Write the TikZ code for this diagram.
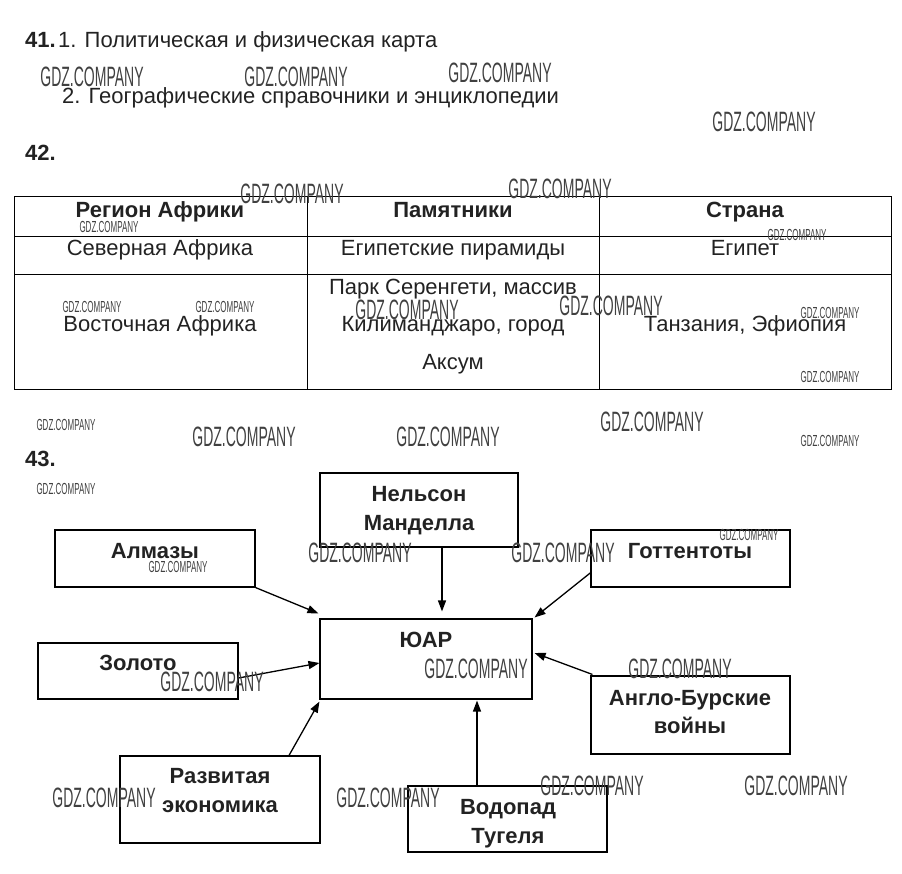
\documentclass[tikz,border=0pt]{standalone}
\usepackage{fontspec}
\setmainfont{Liberation Sans}
\newfontfamily\wmfont[FakeStretch=0.5]{Liberation Sans}
\usetikzlibrary{arrows.meta,calc}
\definecolor{ink}{HTML}{222222}
\tikzset{
  txt/.style={inner sep=0pt,anchor=mid,text=ink,font=\fontsize{22}{22}\selectfont},
  txtl/.style={txt,anchor=mid west},
  btxt/.style={txt,font=\fontsize{22}{22}\selectfont\bfseries},
  btxtl/.style={txtl,font=\fontsize{22}{22}\selectfont\bfseries},
  wmbig/.style={inner sep=0pt,anchor=center,text=black!75,font=\wmfont\fontsize{28}{28}\selectfont},
  wmsmall/.style={inner sep=0pt,anchor=center,text=black!75,font=\wmfont\fontsize{16}{16}\selectfont},
  box/.style={draw=black,line width=1.1pt,inner sep=0pt},
  arr/.style={draw=black,line width=1.3pt,-{Triangle[length=11pt,width=8pt]}},
  grid/.style={draw=black,line width=0.9pt}
}
\begin{document}
\begin{tikzpicture}[x=1pt,y=-1pt]
\useasboundingbox (0,0) rectangle (902,873);
% --- 41
\node[btxtl] (n41) at (25,45) {41.};
\node[txtl] (t41a) at (58,45) {1. Политическая и физическая карта};
\node[txtl] (t41b) at (62,101) {2. Географические справочники и энциклопедии};
% --- 42
\node[btxtl] (n42) at (25,158) {42.};
\draw[grid] (14,196) rectangle (891,389);
\draw[grid] (307,196) -- (307,389);
\draw[grid] (599,196) -- (599,389);
\draw[grid] (14,236) -- (891,236);
\draw[grid] (14,274) -- (891,274);
\node[btxt] (h1) at (160,215) {Регион Африки};
\node[btxt] (h2) at (453,215) {Памятники};
\node[btxt] (h3) at (745,215) {Страна};
\node[txt] (r1a) at (160,253) {Северная Африка};
\node[txt] (r1b) at (453,253) {Египетские пирамиды};
\node[txt] (r1c) at (745,253) {Египет};
\node[txt] (r2a) at (160,329) {Восточная Африка};
\node[txt] (r2b1) at (453,292) {Парк Серенгети, массив};
\node[txt] (r2b2) at (453,329) {Килиманджаро, город};
\node[txt] (r2b3) at (453,367) {Аксум};
\node[txt] (r2c) at (745,329) {Танзания, Эфиопия};
% --- 43
\node[btxtl] (n43) at (25,464) {43.};
\node[box,minimum width=198pt,minimum height=74pt] (mand) at (419,510) {};
\node[box,minimum width=200pt,minimum height=57pt] (alm) at (155,558.5) {};
\node[box,minimum width=199pt,minimum height=57pt] (gott) at (690.5,558.5) {};
\node[box,minimum width=212pt,minimum height=80pt] (yuar) at (426,659) {};
\node[box,minimum width=200pt,minimum height=56pt] (zol) at (138,671) {};
\node[box,minimum width=199pt,minimum height=78pt] (anglo) at (690.5,715) {};
\node[box,minimum width=200pt,minimum height=87pt] (razv) at (220,799.5) {};
\node[box,minimum width=199pt,minimum height=66pt] (vod) at (507.5,819) {};
\node[btxt] (lmand1) at (419,499) {Нельсон};
\node[btxt] (lmand2) at (419,528) {Манделла};
\node[btxt] (lalm) at (155,556) {Алмазы};
\node[btxt] (lgott) at (690,556) {Готтентоты};
\node[btxt] (lyuar) at (426,645) {ЮАР};
\node[btxt] (lzol) at (138,668) {Золото};
\node[btxt] (langlo1) at (690,703) {Англо-Бурские};
\node[btxt] (langlo2) at (690,731) {войны};
\node[btxt] (lrazv1) at (220,781) {Развитая};
\node[btxt] (lrazv2) at (220,810) {экономика};
\node[btxt] (lvod1) at (508,812) {Водопад};
\node[btxt] (lvod2) at (508,841) {Тугеля};
% arrows
\draw[arr] (alm.south east) -- ($(yuar.north west)+(-1,-5)$);
\draw[arr] ($(mand.south)+(23,0)$) -- ($(yuar.north)+(16,-7)$);
\draw[arr] ($(gott.west)+(1,13.5)$) -- ($(yuar.north east)+(2,-1)$);
\draw[arr] ($(zol.east)+(0,7)$) -- ($(yuar.west)+(0,4)$);
\draw[arr] ($(razv.north)+(69,0)$) -- ($(yuar.south west)+(0,2)$);
\draw[arr] ($(vod.north)+(-30.5,0)$) -- ($(yuar.south)+(51,1)$);
\draw[arr] ($(anglo.north west)+(2,-1)$) -- ($(yuar.east)+(2,-6)$);
% watermarks
\foreach \x/\y [count=\i] in {92/77,296/77,500/73,764/122,292/194,560/189,407/310,611/306,652/422,244/437,448/437,360/553,563/553,212/682,476/669,680/669,104/798,388/798,592/786,796/786}
  \node[wmbig] (wmb\i) at (\x,\y) {GDZ.COMPANY};
\foreach \x/\y [count=\i] in {109/227,797/235,92/307,225/307,830/313,830/377,66/425,830/441,66/489,178/567,749/535}
  \node[wmsmall] (wms\i) at (\x,\y) {GDZ.COMPANY};
\end{tikzpicture}
\end{document}
